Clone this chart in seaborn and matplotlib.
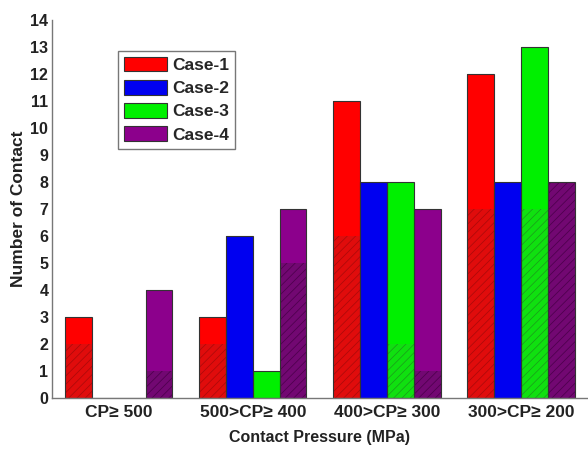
import pandas as pd
import numpy as np
import matplotlib.pyplot as plt
import seaborn as sns

# Values
ranges = ['CP\u2265 500', '500>CP\u2265 400', '400>CP\u2265 300', '300>CP\u2265 200']
cases = ['Case-1', 'Case-2', 'Case-3', 'Case-4']
case1_total = [3, 3, 11, 12]
case2_total = [0, 6, 8, 8]
case3_total = [0, 1, 8, 13]
case4_total = [4, 7, 7, 8]
# lower, hatched part of each bar
case1_hatched = [2, 2, 6, 7]
case2_hatched = [0, 0, 0, 0]
case3_hatched = [0, 0, 2, 7]
case4_hatched = [1, 5, 1, 8]

colors = ['#ff0000', '#0000f0', '#00f000', '#8c008c']
dark_colors = ['#e00c0c', '#0000d8', '#10e010', '#720872']
hatch_colors = ['#a80a0a', '#0000a0', '#1a9a1a', '#4a004a']

totals = [case1_total, case2_total, case3_total, case4_total]
hatched = [case1_hatched, case2_hatched, case3_hatched, case4_hatched]
rows = []
for c, tot, hat in zip(cases, totals, hatched):
    for r, t, h in zip(ranges, tot, hat):
        rows.append({'range': r, 'case': c, 'total': t, 'hatched': h})
df = pd.DataFrame(rows)

sns.set_style('white')
plt.rcParams['font.family'] = ['Liberation Sans', 'DejaVu Sans']
plt.rcParams['hatch.linewidth'] = 0.5

fig = plt.figure(figsize=(5.88, 4.49), dpi=100)
ax = fig.add_axes([0.088, 0.1136, 0.912, 0.842])

# outlines of the full bars (drawn on top)
sns.barplot(data=df, x='range', y='total', hue='case', order=ranges, hue_order=cases,
            palette=colors, saturation=1, width=0.8, edgecolor='#333333', linewidth=0.8, ax=ax)
n_first = len(ax.patches)
# hatched lower parts
sns.barplot(data=df, x='range', y='hatched', hue='case', order=ranges, hue_order=cases,
            palette=dark_colors, saturation=1, width=0.8, legend=False, ax=ax)
for i, p in enumerate(ax.patches[n_first:]):
    k = i // len(ranges)
    p.set_hatch('////')
    p.set_edgecolor(hatch_colors[k])
    p.set_linewidth(0.0)
    p.set_zorder(2)
for p in ax.patches[:n_first]:
    p.set_zorder(3)
    p.set_facecolor(p.get_facecolor()[:3] + (0.0,))

# full-coloured bars underneath
sns.barplot(data=df, x='range', y='total', hue='case', order=ranges, hue_order=cases,
            palette=colors, saturation=1, width=0.8, linewidth=0, legend=False, ax=ax)
for p in ax.patches[2 * n_first:]:
    p.set_zorder(1)

ax.set_xlim(-0.5, 3.5)
ax.set_ylim(0, 14)
ax.set_yticks(range(0, 15))
ax.tick_params(axis='y', length=2, color='#666666', labelsize=11.5, pad=0.5)
ax.tick_params(axis='x', length=0, labelsize=12.5, pad=5)
for lab in ax.get_xticklabels() + ax.get_yticklabels():
    lab.set_fontweight('bold')
    lab.set_color('#222222')

ax.set_xlabel('Contact Pressure (MPa)', fontsize=11.5, fontweight='bold', color='#222222', labelpad=7)
ax.set_ylabel('Number of Contact', fontsize=12.5, fontweight='bold', color='#222222', labelpad=3)

sns.despine(ax=ax)
for s in ['left', 'bottom']:
    ax.spines[s].set_color('#777777')
    ax.spines[s].set_linewidth(1.0)
    ax.spines[s].set_zorder(4)

leg = ax.legend(loc='upper left', bbox_to_anchor=(0.123, 0.918), fancybox=False,
                edgecolor='#777777', framealpha=1, prop={'weight': 'bold', 'size': 12.5},
                handlelength=2.5, handleheight=0.9, labelspacing=0.4, handletextpad=0.3,
                borderpad=0.35, borderaxespad=0)
for h, c in zip(leg.legend_handles, colors):
    h.set_facecolor(c)
    h.set_edgecolor('#333333')
leg.get_frame().set_linewidth(1.0)
leg.set_zorder(5)

fig.savefig('out.png', dpi=100)
